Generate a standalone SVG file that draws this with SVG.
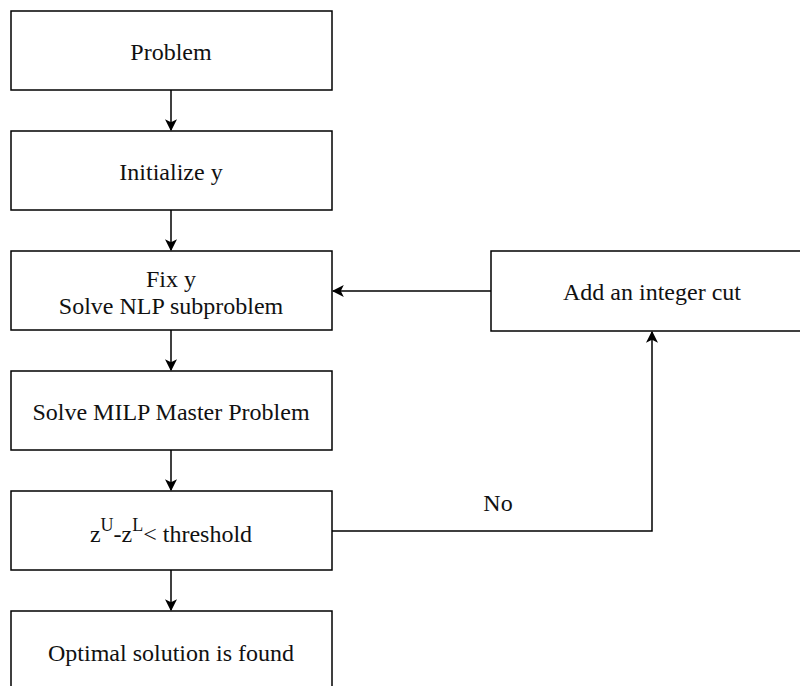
<svg xmlns="http://www.w3.org/2000/svg" width="800" height="686" viewBox="0 0 800 686">
<style>
.box{fill:#fff;stroke:#000;stroke-width:1.5}
.t{font-family:'Liberation Serif','Times New Roman',serif;font-size:24px;fill:#111;text-anchor:middle}
.e{fill:none;stroke:#000;stroke-width:1.5}
</style>
<defs>
<marker id="ah" viewBox="0 0 10 10" refX="9" refY="5" markerWidth="12" markerHeight="12" markerUnits="userSpaceOnUse" orient="auto">
<path d="M0,0 L10,5 L0,10 L2.5,5 Z" fill="#000"/>
</marker>
</defs>
<rect width="800" height="686" fill="#fff"/>
<g id="connectors">
<path class="e" d="M171,90 V130" marker-end="url(#ah)"/>
<path class="e" d="M171,210 V250" marker-end="url(#ah)"/>
<path class="e" d="M171,330 V370" marker-end="url(#ah)"/>
<path class="e" d="M171,450 V490" marker-end="url(#ah)"/>
<path class="e" d="M171,570 V610" marker-end="url(#ah)"/>
<path class="e" d="M491,291 H333" marker-end="url(#ah)"/>
<path class="e" d="M332,531 H652 V332" marker-end="url(#ah)"/>
<text class="t" x="498" y="511">No</text>
</g>
<g id="n1"><rect class="box" x="11" y="11" width="321" height="79"/><text class="t" x="171" y="60">Problem</text></g>
<g id="n2"><rect class="box" x="11" y="131" width="321" height="79"/><text class="t" x="171" y="180">Initialize y</text></g>
<g id="n3"><rect class="box" x="11" y="251" width="321" height="79"/><text class="t" x="171" y="287">Fix y</text><text class="t" x="171" y="314">Solve NLP subproblem</text></g>
<g id="n4"><rect class="box" x="11" y="371" width="321" height="79"/><text class="t" x="171" y="420">Solve MILP Master Problem</text></g>
<g id="n5"><rect class="box" x="11" y="491" width="321" height="79"/><text class="t" x="171" y="542">z<tspan dy="-11" font-size="18">U</tspan><tspan dy="11">-z</tspan><tspan dy="-11" font-size="18">L</tspan><tspan dy="11">&lt; threshold</tspan></text></g>
<g id="n6"><rect class="box" x="11" y="611" width="321" height="90"/><text class="t" x="171" y="661">Optimal solution is found</text></g>
<g id="n7"><rect class="box" x="491" y="251" width="322" height="80"/><text class="t" x="652" y="300">Add an integer cut</text></g>
</svg>
